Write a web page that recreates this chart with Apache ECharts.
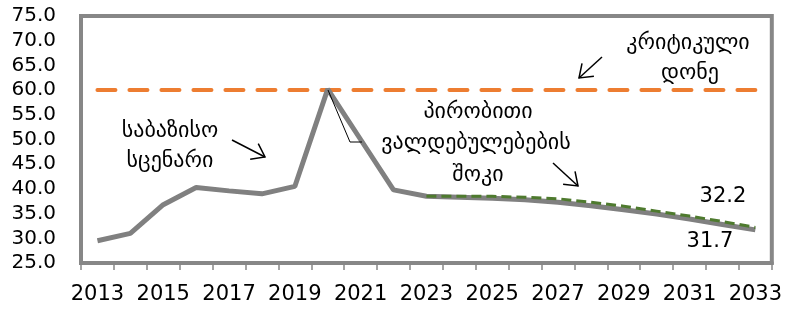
<!DOCTYPE html>
<html>
<head>
<meta charset="utf-8">
<script src="https://cdn.jsdelivr.net/npm/echarts@6/dist/echarts.min.js"></script>
<style>
  html, body { margin: 0; padding: 0; background: #fff; }
  #chart { width: 785px; height: 312px; }
</style>
</head>
<body>
<div id="chart"></div>
<script>
const years = ['2013', '2014', '2015', '2016', '2017', '2018', '2019', '2020', '2021', '2022', '2023',
  '2024', '2025', '2026', '2027', '2028', '2029', '2030', '2031', '2032', '2033'];
const baseline = [29.5, 31.0, 36.8, 40.3, 39.6, 39.0, 40.5, 60.2, 50.0, 39.8, 38.5,
  38.3, 38.1, 37.8, 37.3, 36.6, 35.8, 34.9, 33.9, 32.8, 31.7];
const shock = [null, null, null, null, null, null, null, null, null, null, 38.5,
  38.5, 38.5, 38.3, 38.0, 37.3, 36.5, 35.5, 34.5, 33.4, 32.2];
const critical = [60, 60, 60, 60, 60, 60, 60, 60, 60, 60, 60,
  60, 60, 60, 60, 60, 60, 60, 60, 60, 60];
const yTicks = { min: 25, max: 75, step: 5 };

const FONT = 'DejaVu Sans';

// simple arrow: shaft + open head at (x2, y2)
function arrow(x1, y1, x2, y2) {
  const a = Math.atan2(y2 - y1, x2 - x1);
  const len = 15, spread = Math.PI / 5;
  const p1 = [x2 - len * Math.cos(a - spread), y2 - len * Math.sin(a - spread)];
  const p2 = [x2 - len * Math.cos(a + spread), y2 - len * Math.sin(a + spread)];
  const st = { stroke: '#000', lineWidth: 1.5, fill: null };
  return [
    { type: 'polyline', shape: { points: [[x1, y1], [x2, y2]] }, style: st, z: 100 },
    { type: 'polyline', shape: { points: [p1, [x2, y2], p2] }, style: st, z: 100 }
  ];
}

function label(text, x, y, size) {
  return {
    type: 'text', x: x, y: y, z: 100,
    style: { text: text, fontFamily: FONT, fontSize: size || 22, fill: '#000', align: 'center', verticalAlign: 'middle' }
  };
}

const chart = echarts.init(document.getElementById('chart'));

const option = {
  animation: false,
  grid: {
    left: 81, right: 10, top: 16, bottom: 49,
    show: true, borderColor: '#878787', borderWidth: 4
  },
  xAxis: {
    type: 'category',
    data: years,
    boundaryGap: true,
    axisLine: { show: true, lineStyle: { color: '#878787', width: 4 } },
    axisTick: { show: true, interval: 0, length: 7, lineStyle: { color: '#878787', width: 1.5 } },
    axisLabel: { interval: 1, margin: 21, fontFamily: FONT, fontSize: 21, color: '#000' },
    splitLine: { show: false }
  },
  yAxis: {
    type: 'value',
    min: yTicks.min, max: yTicks.max, interval: yTicks.step,
    axisLine: { show: false },
    axisTick: { show: false },
    splitLine: { show: false },
    axisLabel: {
      margin: 25, fontFamily: FONT, fontSize: 20, color: '#000',
      formatter: v => v.toFixed(1)
    }
  },
  series: [
    {
      name: 'critical', type: 'line', data: critical, symbol: 'none',
      lineStyle: { color: '#ED7D31', width: 4, type: [18, 14], cap: 'round' }
    },
    {
      name: 'baseline', type: 'line', data: baseline, symbol: 'none',
      lineStyle: { color: '#808080', width: 5 }
    },
    {
      name: 'shock', type: 'line', data: shock, symbol: 'none',
      lineStyle: { color: '#4E7A2E', width: 3, type: [10, 5] }
    }
  ],
  graphic: [
    label('საბაზისო', 170, 131),
    label('სცენარი', 170, 161),
    label('კრიტიკული', 688, 43),
    label('დონე', 690, 73),
    label('პირობითი', 478, 112),
    label('ვალდებულებების', 476, 143),
    label('შოკი', 478, 175),
    label('32.2', 723, 197, 21),
    label('31.7', 710, 242, 21),
    ...arrow(232, 140, 265, 157),
    ...arrow(602, 57, 579, 78),
    ...arrow(553, 163, 578, 186),
    { type: 'polyline', z: 100, shape: { points: [[328, 90], [350, 142], [362, 142]] },
      style: { stroke: '#000', lineWidth: 1, fill: null } }
  ]
};

chart.setOption(option);
</script>
</body>
</html>
